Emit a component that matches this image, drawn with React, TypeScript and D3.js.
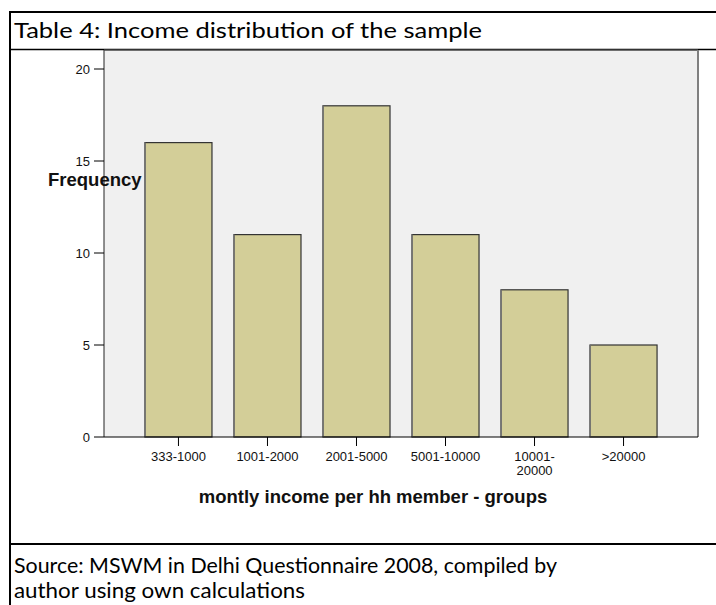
import React from "react";
import * as d3 from "d3";

const categories = ["333-1000", "1001-2000", "2001-5000", "5001-10000", "10001-\n20000", ">20000"];
const frequencies = [16, 11, 18, 11, 8, 5];
const yTicks = [0, 5, 10, 15, 20];

const W = 716;
const H = 605;
const plot = { left: 104, right: 698, top: 50, bottom: 437 };

export default function App() {
  const x = d3
    .scaleBand<string>()
    .domain(categories)
    .range([plot.left, plot.right])
    .paddingInner(0.247)
    .paddingOuter(0.46);
  const y = d3.scaleLinear().domain([0, 20]).range([plot.bottom, 69]);
  const axisFont = "Arial, 'Liberation Sans', sans-serif";
  const docFont = "Lato, 'Open Sans', sans-serif";

  return (
    <svg width={W} height={H} style={{ position: "absolute", left: 0, top: 0, background: "#fff" }}>
      {/* table frame */}
      <line x1={10} x2={W} y1={12} y2={12} stroke="#000" strokeWidth={2} />
      <line x1={10} x2={10} y1={11} y2={H} stroke="#000" strokeWidth={2} />
      <line x1={10} x2={W} y1={49.5} y2={49.5} stroke="#000" strokeWidth={1.5} />
      <line x1={10} x2={W} y1={544} y2={544} stroke="#000" strokeWidth={2} />
      <text x={14} y={38} fontFamily={docFont} fontSize={22} fill="#000" textLength={468} lengthAdjust="spacingAndGlyphs">
        Table 4: Income distribution of the sample
      </text>
      <text x={14} y={573} fontFamily={docFont} fontSize={22} fill="#000" textLength={543} lengthAdjust="spacingAndGlyphs">
        Source: MSWM in Delhi Questionnaire 2008, compiled by
      </text>
      <text x={14} y={598} fontFamily={docFont} fontSize={22} fill="#000" textLength={291} lengthAdjust="spacingAndGlyphs">
        author using own calculations
      </text>

      {/* plot area */}
      <rect x={plot.left} y={plot.top} width={plot.right - plot.left} height={plot.bottom - plot.top} fill="#f0f0f0" />
      <line x1={plot.left} x2={plot.left} y1={plot.top} y2={plot.bottom} stroke="#222" strokeWidth={1} />
      <line x1={plot.left} x2={plot.right} y1={plot.top} y2={plot.top} stroke="#444" strokeWidth={1.5} />
      <line x1={plot.right} x2={plot.right} y1={plot.top} y2={plot.bottom} stroke="#808080" strokeWidth={2} />

      {/* bars */}
      {frequencies.map((v, i) => {
        const bx = x(categories[i])!;
        const bw = x.bandwidth();
        return (
          <g key={i}>
            <rect x={bx} y={y(v)} width={bw} height={y(0) - y(v)} fill="#d3ce98" stroke="#333" strokeWidth={1.2} />
            <line x1={bx} x2={bx} y1={y(v)} y2={y(0)} stroke="#777" strokeWidth={1.5} />
          </g>
        );
      })}

      {/* x axis */}
      <line x1={plot.left} x2={plot.right} y1={plot.bottom} y2={plot.bottom} stroke="#000" strokeWidth={1.2} />
      {categories.map((c, i) => {
        const cx = x(c)! + x.bandwidth() / 2;
        const lines = c.split("\n");
        return (
          <g key={i}>
            <line x1={cx} x2={cx} y1={plot.bottom} y2={plot.bottom + 9} stroke="#000" strokeWidth={1} />
            {lines.map((ln, j) => (
              <text key={j} x={cx} y={461 + j * 13.5} textAnchor="middle" fontFamily={axisFont} fontSize={13} fill="#111">
                {ln}
              </text>
            ))}
          </g>
        );
      })}

      {/* y axis ticks */}
      {yTicks.map((t) => (
        <g key={t}>
          <line x1={plot.left - 10} x2={plot.left} y1={y(t)} y2={y(t)} stroke="#000" strokeWidth={1} />
          <text x={plot.left - 14} y={y(t)} dy="0.35em" textAnchor="end" fontFamily={axisFont} fontSize={13} fill="#111">
            {t}
          </text>
        </g>
      ))}

      {/* axis titles */}
      <text x={48} y={185.5} fontFamily={axisFont} fontWeight="bold" fontSize={18.5} fill="#111">
        Frequency
      </text>
      <text x={373} y={503} textAnchor="middle" fontFamily={axisFont} fontWeight="bold" fontSize={18.5} fill="#111">
        montly income per hh member - groups
      </text>
    </svg>
  );
}
